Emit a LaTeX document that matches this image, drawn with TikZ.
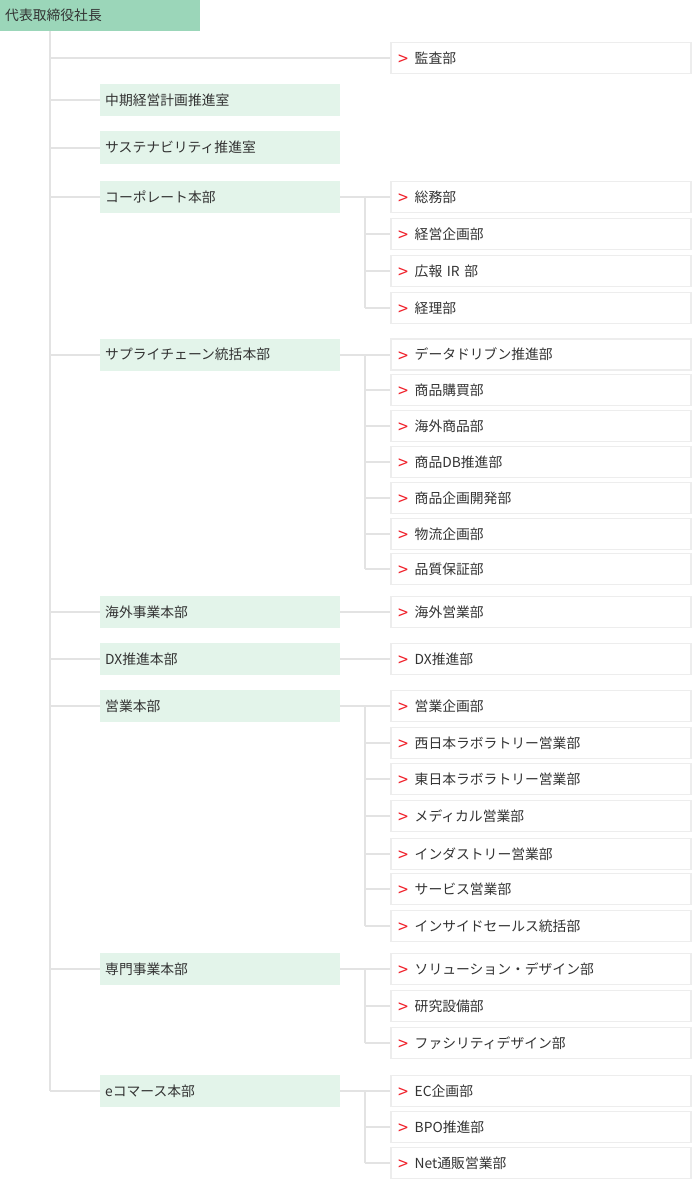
\documentclass[tikz,border=0pt]{standalone}
\usepackage{fontspec}
\setmainfont{Noto Sans CJK JP}
\usetikzlibrary{positioning}
\definecolor{ceogreen}{HTML}{9BD6B9}
\definecolor{hqgreen}{HTML}{E3F4EA}
\definecolor{linegray}{HTML}{E3E3E3}
\definecolor{boxgray}{HTML}{EDEDED}
\definecolor{markred}{HTML}{F0202A}
\definecolor{textgray}{HTML}{333333}
\newcommand{\dept}[1]{{\color{markred}\fontsize{18}{16}\selectfont\raisebox{-2.5pt}[0pt][0pt]{>}}\hspace{6pt}#1}

\begin{document}
\begin{tikzpicture}[x=1pt,y=-1pt,
    every node/.style={font=\fontsize{13.8}{16}\selectfont, text=textgray, inner ysep=0pt, align=left},
    ceobox/.style={fill=ceogreen, anchor=west, minimum height=31pt, inner xsep=5pt, text width=190pt},
    hqbox/.style={fill=hqgreen, anchor=west, minimum height=32pt, inner xsep=5pt, text width=230pt},
    deptbox/.style={draw=boxgray, line width=1.5pt, fill=white, anchor=west, minimum height=31pt, inner xsep=8pt, text width=284pt},
    link/.style={draw=linegray, line width=2pt}]
    \useasboundingbox (0,0) rectangle (691,1180);
    % top
    \node[ceobox] (ceo) at (0,15.5) {代表取締役社長};
    \coordinate (trunk) at (50,0);
    % headquarters
    \node[hqbox] (midplan) at (100,100) {中期経営計画推進室};
    \node[hqbox] (sustain) at (100,147.5) {サステナビリティ推進室};
    \node[hqbox] (corp) at (100,197) {コーポレート本部};
    \node[hqbox] (scm) at (100,354.5) {サプライチェーン統括本部};
    \node[hqbox] (intl) at (100,612) {海外事業本部};
    \node[hqbox] (dx) at (100,659) {DX推進本部};
    \node[hqbox] (sales) at (100,706) {営業本部};
    \node[hqbox] (spec) at (100,969) {専門事業本部};
    \node[hqbox] (ecom) at (100,1091) {eコマース本部};
    % departments
    \node[deptbox] (audit) at (390,58) {\dept{監査部}};
    \node[deptbox] (corp1) at (390,197) {\dept{総務部}};
    \node[deptbox] (corp2) at (390,234) {\dept{経営企画部}};
    \node[deptbox] (corp3) at (390,271) {\dept{広報 IR 部}};
    \node[deptbox] (corp4) at (390,308) {\dept{経理部}};
    \node[deptbox] (scm1) at (390,354.5) {\dept{データドリブン推進部}};
    \node[deptbox] (scm2) at (390,390) {\dept{商品購買部}};
    \node[deptbox] (scm3) at (390,426) {\dept{海外商品部}};
    \node[deptbox] (scm4) at (390,462) {\dept{商品DB推進部}};
    \node[deptbox] (scm5) at (390,498) {\dept{商品企画開発部}};
    \node[deptbox] (scm6) at (390,534) {\dept{物流企画部}};
    \node[deptbox] (scm7) at (390,569) {\dept{品質保証部}};
    \node[deptbox] (intl1) at (390,612) {\dept{海外営業部}};
    \node[deptbox] (dx1) at (390,659) {\dept{DX推進部}};
    \node[deptbox] (sales1) at (390,706) {\dept{営業企画部}};
    \node[deptbox] (sales2) at (390,743) {\dept{西日本ラボラトリー営業部}};
    \node[deptbox] (sales3) at (390,779) {\dept{東日本ラボラトリー営業部}};
    \node[deptbox] (sales4) at (390,816) {\dept{メディカル営業部}};
    \node[deptbox] (sales5) at (390,854) {\dept{インダストリー営業部}};
    \node[deptbox] (sales6) at (390,889) {\dept{サービス営業部}};
    \node[deptbox] (sales7) at (390,926) {\dept{インサイドセールス統括部}};
    \node[deptbox] (spec1) at (390,969) {\dept{ソリューション・デザイン部}};
    \node[deptbox] (spec2) at (390,1006) {\dept{研究設備部}};
    \node[deptbox] (spec3) at (390,1043) {\dept{ファシリティデザイン部}};
    \node[deptbox] (ecom1) at (390,1091) {\dept{EC企画部}};
    \node[deptbox] (ecom2) at (390,1127) {\dept{BPO推進部}};
    \node[deptbox] (ecom3) at (390,1163) {\dept{Net通販営業部}};
    % trunk and branches
    \draw[link] (trunk |- ceo.south) -- (trunk |- ecom.west);
    \draw[link] (trunk |- audit.west) -- (audit.west);
    \foreach \hq in {midplan,sustain,corp,scm,intl,dx,sales,spec,ecom}
        \draw[link] (trunk |- \hq.west) -- (\hq.west);
    % sub branches
    \draw[link] (intl.east) -- (intl1.west);
    \draw[link] (dx.east) -- (dx1.west);
    \foreach \hq/\last in {corp/4,scm/7,sales/7,spec/3,ecom/3} {
        \draw[link] (\hq.east) -- (\hq1.west);
        \draw[link] ([xshift=25pt]\hq.east) -- ([xshift=25pt]\hq.east |- \hq\last.west);
        \foreach \i in {2,...,\last}
            \draw[link] ([xshift=25pt]\hq.east |- \hq\i.west) -- (\hq\i.west);
    }
\end{tikzpicture}
\end{document}
